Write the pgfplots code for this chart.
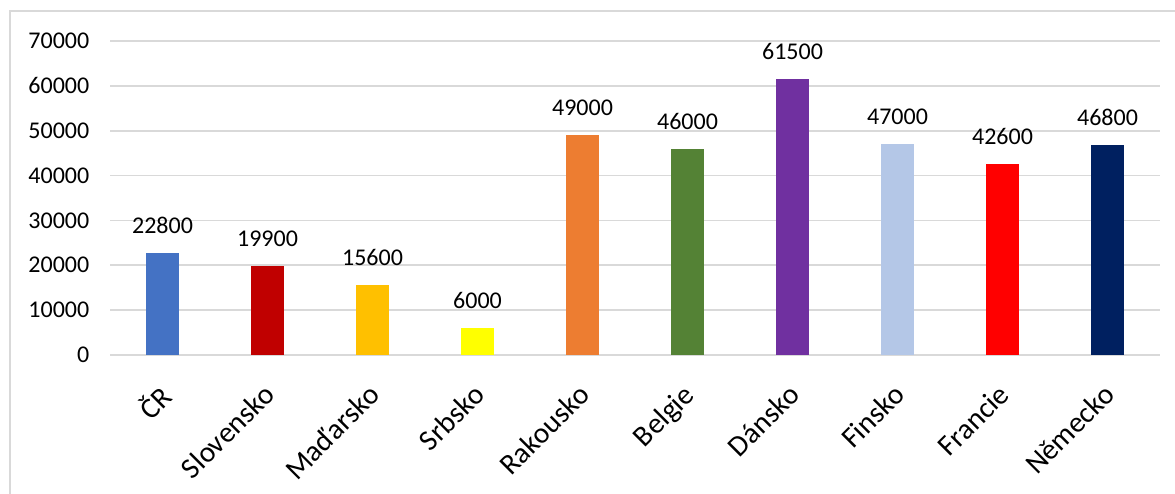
\documentclass[border=0pt]{standalone}
\usepackage{fontspec}
\setmainfont{Carlito}
\usepackage{pgfplots}
\pgfplotsset{compat=1.18}
\definecolor{gridc}{HTML}{D9D9D9}
\definecolor{c1}{HTML}{4472C4}
\definecolor{c2}{HTML}{C00000}
\definecolor{c3}{HTML}{FFC000}
\definecolor{c4}{HTML}{FFFF00}
\definecolor{c5}{HTML}{ED7D31}
\definecolor{c6}{HTML}{548235}
\definecolor{c7}{HTML}{7030A0}
\definecolor{c8}{HTML}{B4C7E7}
\definecolor{c9}{HTML}{FF0000}
\definecolor{c10}{HTML}{002060}
\begin{document}
\begin{tikzpicture}[x=0.75pt,y=0.75pt,font=\fontsize{18pt}{21pt}\selectfont]
\draw[gridc, line width=1.2pt] (10,-10) -- (10,482) -- (1190,482);
\begin{axis}[
  at={(82.5pt,103.5pt)}, anchor=south west,
  scale only axis, width=787.5pt, height=235.5pt,
  xmin=-0.5, xmax=9.5, ymin=0, ymax=70000,
  ytick={0,10000,...,70000},
  scaled y ticks=false,
  xtick={0,...,9},
  xticklabels={ČR,Slovensko,Maďarsko,Srbsko,Rakousko,Belgie,Dánsko,Finsko,Francie,Německo},
  xticklabel style={font=\fontsize{22pt}{26pt}\selectfont, rotate=45, anchor=north east, inner sep=1pt, xshift=-16.5pt, yshift=-10.3pt},
  yticklabel style={xshift=-12pt},
  /pgf/number format/assume math mode=true,
  /pgf/number format/.cd, 1000 sep={}, fixed, precision=0, /pgfplots/.cd,
  ymajorgrids, grid style={gridc, line width=1.2pt},
  axis line style={draw=none},
  major tick length=0pt,
  ybar, bar width=24.75pt, bar shift=0pt,
  nodes near coords, nodes near coords style={black, yshift=11pt},
  every axis plot/.append style={draw=none},
  clip=false,
]
\addplot[fill=c1] coordinates {(0,22800)};
\addplot[fill=c2] coordinates {(1,19900)};
\addplot[fill=c3] coordinates {(2,15600)};
\addplot[fill=c4] coordinates {(3,6000)};
\addplot[fill=c5] coordinates {(4,49000)};
\addplot[fill=c6] coordinates {(5,46000)};
\addplot[fill=c7] coordinates {(6,61500)};
\addplot[fill=c8] coordinates {(7,47000)};
\addplot[fill=c9] coordinates {(8,42600)};
\addplot[fill=c10] coordinates {(9,46800)};
\end{axis}
\pgfresetboundingbox
\useasboundingbox (0,0) rectangle (1175,493);
\end{tikzpicture}
\end{document}
